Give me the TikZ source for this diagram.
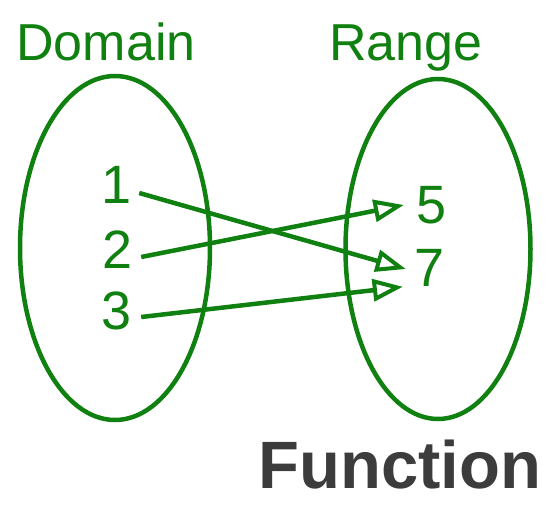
\documentclass[tikz,border=0pt]{standalone}
\usepackage{fontspec}
\setmainfont{Liberation Sans}
\usetikzlibrary{arrows.meta,shapes.geometric}
\definecolor{setGreen}{RGB}{16,128,16}
\definecolor{penGray}{RGB}{60,60,60}

\begin{document}
\begin{tikzpicture}
[x=1pt,y=-1pt,%
  setDecorate/.style={shape=ellipse,draw=setGreen,line width=4.5pt,inner sep=0pt},%
  arrowDecorate/.style={-{Triangle[open,length=30pt,width=22pt,line width=4pt]},draw=setGreen,line width=4.5pt},%
  nodeDecorate/.style={text=setGreen,inner sep=0pt,font=\fontsize{54}{54}\selectfont},%
  titleDecorate/.style={text=setGreen,inner sep=0pt,anchor=base,font=\fontsize{52}{52}\selectfont}]
\useasboundingbox (0,0) rectangle (555,511);
%% the two sets
\node (domainset) at (115,248) [setDecorate,minimum width=190pt,minimum height=344pt] {};
\node (rangeset) at (438,249) [setDecorate,minimum width=185pt,minimum height=340pt] {};
\node (domain) at (106,61) [titleDecorate] {Domain};
\node (range) at (406,61) [titleDecorate] {Range};
%% elements
\foreach \nodename/\val/\x/\y in {d1/1/117/185, d2/2/118/250, d3/3/117/311, r5/5/432/205, r7/7/430/268}
{
  \node (\nodename) at (\x,\y) [nodeDecorate] {\val};
}
%% mapping
\draw[arrowDecorate] ([shift={(7,8)}]d1.east) -- ([shift={(-9,1)}]r7.west);
\draw[arrowDecorate] ([shift={(8,7)}]d2.east) -- ([shift={(-13,0)}]r5.west);
\draw[arrowDecorate] ([shift={(9,6)}]d3.east) -- ([shift={(-12,0)}]r7.south west);
%% caption
\node (caption) at (258,488) [anchor=base west,inner sep=0pt,text=penGray,font=\fontsize{67}{67}\selectfont\bfseries] {Function};
\end{tikzpicture}
\end{document}
